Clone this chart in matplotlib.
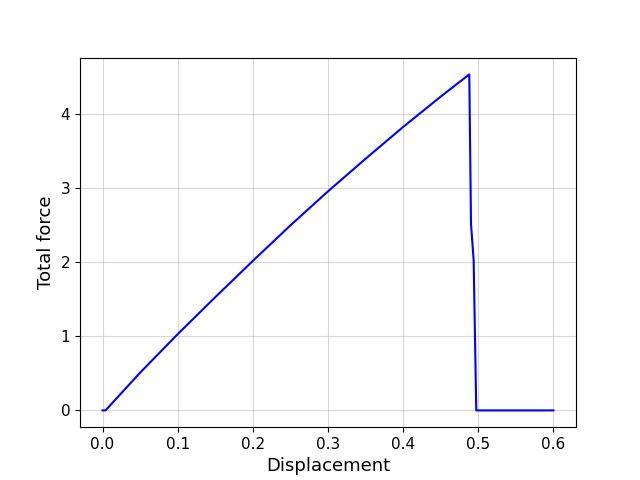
import numpy as np
import matplotlib
matplotlib.use("Agg")
import matplotlib.pyplot as plt

# displacement / total force
displacement = [0.0, 0.004, 0.05, 0.1, 0.15, 0.2, 0.25, 0.3, 0.35, 0.4, 0.45, 0.488,
                0.4903, 0.4938, 0.4973, 0.55, 0.6]
total_force = [0.0, 0.0, 0.51, 1.03, 1.53, 2.02, 2.50, 2.96, 3.40, 3.83, 4.24, 4.54,
               2.52, 2.03, 0.0, 0.0, 0.0]

fig, ax = plt.subplots(figsize=(6.4, 4.8), dpi=100)
ax.plot(displacement, total_force, color='blue', lw=1.5)
ax.grid(True, alpha=0.5)
ax.set_xlabel("Displacement", fontsize=13)
ax.set_ylabel("Total force", fontsize=13)
ax.tick_params(labelsize=11)
fig.savefig("out.png")
